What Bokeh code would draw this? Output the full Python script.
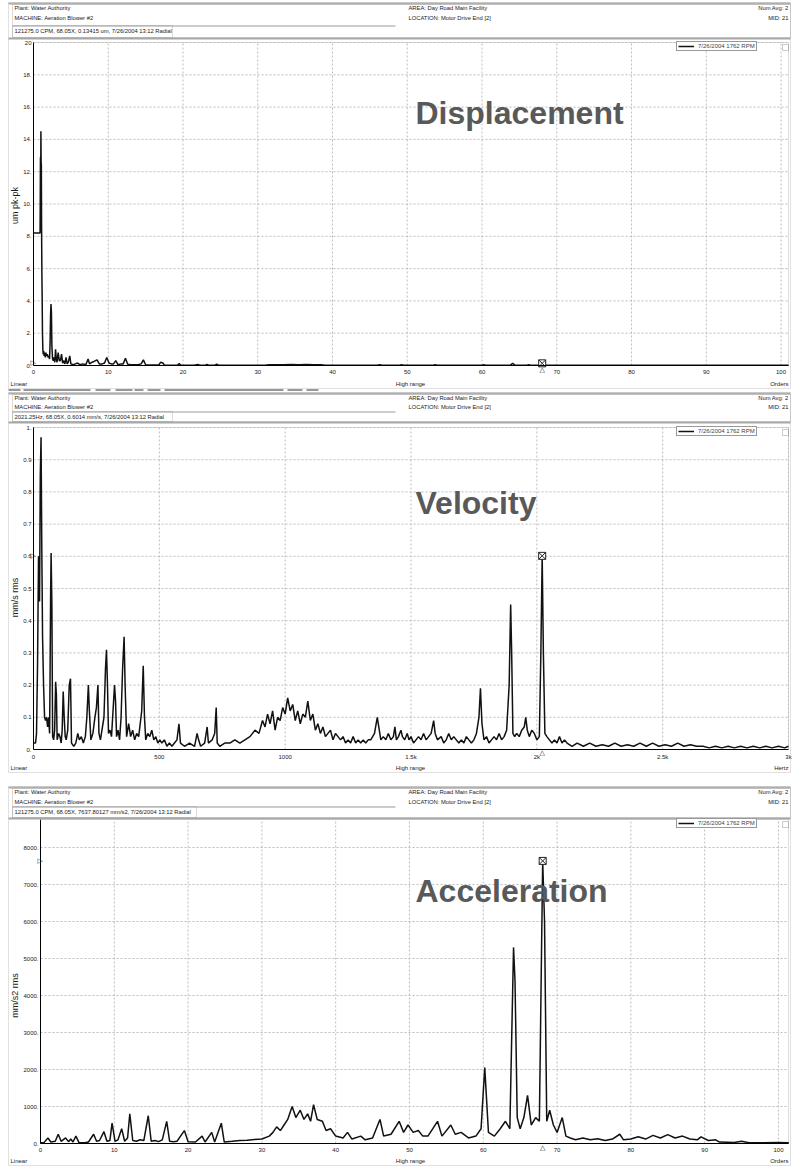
from bokeh.plotting import figure
from bokeh.models import Range1d, Label, BoxAnnotation, Legend, LegendItem, FixedTicker, LinearAxis
from bokeh.layouts import column
from bokeh.embed import file_html
from bokeh.resources import INLINE
from math import pi

FONT = "Liberation Sans"

# ---------------- data ----------------
disp_points = [
    (0, 8.2), (0.88, 8.2), (0.9, 9.8), (0.93, 12.9), (0.96, 10.2), (0.99, 14.5), (1.02, 12.6),
    (1.05, 12.4), (1.08, 8.6), (1.12, 5.8), (1.16, 4.1), (1.2, 2.0), (1.25, 1.0), (1.3, 0.7),
    (1.36, 0.9), (1.42, 0.6), (1.5, 0.8), (1.58, 0.5), (1.66, 0.8), (1.75, 0.6), (1.85, 0.7),
    (1.95, 0.5), (2.05, 0.6), (2.15, 0.4), (2.22, 1.4), (2.28, 3.1), (2.34, 3.8), (2.4, 3.3),
    (2.46, 1.2), (2.55, 0.4), (2.65, 0.3), (2.75, 0.5), (2.85, 0.2), (2.95, 1.0), (3.05, 0.4),
    (3.15, 0.2), (3.3, 0.8), (3.45, 0.3), (3.6, 0.3), (3.75, 0.7), (3.9, 0.15), (4.05, 0.3),
    (4.2, 0.1), (4.35, 0.5), (4.5, 0.1), (4.65, 0.2), (4.85, 0.6), (5.0, 0.1), (5.3, 0.05),
    (5.6, 0.1), (5.9, 0.15), (6.2, 0.05), (6.6, 0.1), (7.0, 0.05), (7.3, 0.4), (7.5, 0.1),
    (7.8, 0.2), (8.1, 0.25), (8.5, 0.35), (8.8, 0.1), (9.2, 0.1), (9.5, 0.15), (9.8, 0.5),
    (10.1, 0.15), (10.4, 0.1), (10.7, 0.1), (11.0, 0.3), (11.3, 0.05), (11.7, 0.1), (12.0, 0.1),
    (12.3, 0.45), (12.6, 0.08), (13.0, 0.05), (13.5, 0.05), (14.0, 0.05), (14.4, 0.1), (14.7, 0.35),
    (15.0, 0.05), (16.0, 0.03), (16.8, 0.05), (17.0, 0.2), (17.3, 0.15), (17.5, 0.03), (18.5, 0.02),
    (19.3, 0.03), (19.5, 0.12), (19.7, 0.02), (21.5, 0.01), (22.0, 0.06), (22.3, 0.01), (23.0, 0.01),
    (23.2, 0.06), (23.5, 0.01), (24.3, 0.02), (24.5, 0.09), (24.8, 0.01), (28, 0.01), (31, 0.02),
    (31.5, 0.05), (32.5, 0.04), (33.5, 0.05), (34.5, 0.06), (35.5, 0.05), (36.5, 0.06), (37.5, 0.05),
    (38.5, 0.04), (39, 0.02), (42, 0.01), (46, 0.01), (46.3, 0.05), (46.6, 0.01), (49, 0.01),
    (49.2, 0.05), (49.5, 0.01), (53.5, 0.01), (53.7, 0.05), (54, 0.01), (60, 0.01), (60.2, 0.05),
    (60.5, 0.01), (63.8, 0.02), (64.1, 0.14), (64.4, 0.02), (66, 0.01), (66.2, 0.05), (66.5, 0.01),
    (67.8, 0.02), (68.05, 0.134), (68.3, 0.02), (75, 0.01), (85, 0.01), (95, 0.01), (101, 0.01),
]

vel_points = [
    (0, 0.02), (8, 0.02), (12, 0.05), (16, 0.26), (20, 0.6), (24, 0.46), (27, 0.85), (30, 0.97),
    (33, 0.62), (36, 0.35), (40, 0.2), (44, 0.1), (48, 0.09), (52, 0.1), (56, 0.07), (60, 0.1),
    (64, 0.05), (66, 0.25), (68, 0.48), (70, 0.61), (73, 0.45), (76, 0.04), (80, 0.03), (84, 0.06),
    (88, 0.21), (91, 0.17), (94, 0.03), (100, 0.05), (105, 0.04), (110, 0.02), (114, 0.06),
    (118, 0.18), (122, 0.1), (126, 0.04), (130, 0.03), (136, 0.06), (142, 0.2), (147, 0.22),
    (151, 0.02), (160, 0.01), (168, 0.02), (176, 0.05), (182, 0.03), (190, 0.04), (198, 0.02),
    (206, 0.04), (212, 0.1), (218, 0.2), (222, 0.12), (228, 0.03), (236, 0.05), (244, 0.1),
    (250, 0.13), (256, 0.2), (260, 0.05), (266, 0.03), (272, 0.06), (280, 0.1), (286, 0.25),
    (290, 0.31), (294, 0.2), (298, 0.05), (304, 0.06), (310, 0.04), (316, 0.12), (322, 0.2),
    (326, 0.15), (330, 0.04), (336, 0.06), (342, 0.03), (348, 0.1), (354, 0.25), (360, 0.35),
    (364, 0.2), (370, 0.04), (378, 0.08), (386, 0.04), (394, 0.06), (402, 0.03), (410, 0.05),
    (418, 0.04), (424, 0.08), (430, 0.12), (436, 0.26), (441, 0.1), (446, 0.03), (454, 0.05),
    (462, 0.04), (470, 0.06), (478, 0.03), (486, 0.04), (494, 0.02), (502, 0.03), (510, 0.02),
    (520, 0.03), (530, 0.01), (540, 0.02), (550, 0.01), (560, 0.02), (570, 0.03), (578, 0.08),
    (584, 0.02), (600, 0.01), (620, 0.02), (640, 0.01), (650, 0.05), (656, 0.03), (664, 0.01),
    (680, 0.02), (690, 0.07), (695, 0.02), (710, 0.03), (720, 0.05), (726, 0.13), (730, 0.02),
    (740, 0.01), (760, 0.02), (780, 0.02), (800, 0.03), (820, 0.02), (840, 0.03), (860, 0.04),
    (880, 0.06), (896, 0.05), (910, 0.09), (920, 0.07), (930, 0.11), (940, 0.08), (950, 0.12),
    (960, 0.06), (970, 0.1), (980, 0.09), (990, 0.13), (1000, 0.11), (1010, 0.16), (1020, 0.12),
    (1030, 0.14), (1040, 0.09), (1050, 0.12), (1060, 0.08), (1070, 0.11), (1080, 0.1), (1090, 0.15),
    (1100, 0.09), (1110, 0.11), (1120, 0.06), (1130, 0.08), (1140, 0.05), (1150, 0.07), (1160, 0.04),
    (1170, 0.05), (1180, 0.06), (1190, 0.03), (1200, 0.05), (1210, 0.04), (1220, 0.03), (1230, 0.04),
    (1240, 0.02), (1250, 0.03), (1260, 0.02), (1270, 0.04), (1280, 0.02), (1290, 0.03), (1300, 0.02),
    (1310, 0.03), (1320, 0.02), (1330, 0.03), (1340, 0.03), (1355, 0.05), (1366, 0.1), (1372, 0.07),
    (1380, 0.03), (1390, 0.04), (1400, 0.03), (1410, 0.05), (1420, 0.03), (1430, 0.04), (1436, 0.07),
    (1442, 0.03), (1450, 0.04), (1460, 0.06), (1466, 0.04), (1475, 0.03), (1485, 0.05), (1492, 0.03),
    (1500, 0.04), (1510, 0.02), (1520, 0.03), (1530, 0.04), (1540, 0.03), (1550, 0.05), (1560, 0.03),
    (1570, 0.04), (1580, 0.05), (1590, 0.09), (1596, 0.05), (1605, 0.03), (1620, 0.04), (1630, 0.02),
    (1640, 0.03), (1650, 0.05), (1660, 0.03), (1670, 0.04), (1680, 0.03), (1690, 0.02), (1700, 0.03),
    (1710, 0.02), (1720, 0.04), (1730, 0.03), (1740, 0.02), (1750, 0.03), (1760, 0.05), (1770, 0.1),
    (1776, 0.19), (1782, 0.08), (1790, 0.03), (1800, 0.04), (1810, 0.02), (1820, 0.03), (1830, 0.04),
    (1840, 0.03), (1850, 0.05), (1860, 0.03), (1870, 0.04), (1880, 0.06), (1890, 0.2), (1896, 0.45),
    (1900, 0.3), (1905, 0.05), (1912, 0.04), (1920, 0.05), (1930, 0.04), (1940, 0.06), (1950, 0.07),
    (1956, 0.1), (1962, 0.06), (1970, 0.04), (1980, 0.06), (1990, 0.05), (2000, 0.03), (2010, 0.04),
    (2016, 0.3), (2021.25, 0.6014), (2026, 0.3), (2032, 0.05), (2040, 0.04), (2050, 0.03), (2060, 0.02),
    (2070, 0.03), (2080, 0.02), (2090, 0.04), (2100, 0.02), (2110, 0.03), (2120, 0.02), (2140, 0.01),
    (2160, 0.02), (2185, 0.01), (2210, 0.02), (2235, 0.01), (2260, 0.015), (2285, 0.01), (2310, 0.02),
    (2335, 0.01), (2360, 0.015), (2385, 0.01), (2410, 0.02), (2435, 0.01), (2460, 0.02), (2485, 0.01),
    (2510, 0.015), (2535, 0.01), (2560, 0.02), (2585, 0.01), (2610, 0.015), (2635, 0.01), (2660, 0.01),
    (2685, 0.005), (2710, 0.01), (2735, 0.005), (2760, 0.01), (2785, 0.005), (2810, 0.01), (2835, 0.005),
    (2860, 0.01), (2885, 0.005), (2910, 0.01), (2935, 0.005), (2960, 0.01), (2985, 0.005), (3000, 0.01),
]

acc_points = [
    (0, 20), (0.5, 30), (1.0, 150), (1.4, 40), (2.0, 60), (2.4, 250), (2.8, 60), (3.4, 150), (3.8, 50),
    (4.1, 120), (4.4, 40), (4.8, 200), (5.2, 30), (6.0, 20), (6.5, 40), (7.2, 250), (7.6, 60), (8.0, 80),
    (8.6, 320), (9.0, 60), (9.4, 80), (9.7, 550), (10.1, 60), (10.5, 100), (11.0, 400), (11.4, 60),
    (11.8, 150), (12.1, 800), (12.5, 80), (13.0, 60), (13.5, 100), (14.0, 80), (14.6, 750), (15.0, 60),
    (15.5, 80), (16.0, 50), (16.5, 100), (17.1, 600), (17.5, 60), (18.0, 50), (18.5, 60), (19.5, 350),
    (20.0, 50), (21.0, 40), (21.9, 200), (22.3, 40), (23.2, 300), (23.6, 40), (24.5, 550), (24.9, 40),
    (26, 60), (27, 80), (28, 90), (29, 110), (30, 120), (31, 200), (31.5, 300), (32, 450), (32.5, 350),
    (33, 500), (33.5, 650), (34.1, 1000), (34.6, 700), (35.2, 900), (35.7, 650), (36.2, 800), (36.6, 600),
    (37.0, 1050), (37.5, 650), (38.2, 600), (38.7, 350), (39.3, 400), (40, 200), (41, 150), (41.6, 300),
    (42.2, 120), (43.4, 200), (44, 100), (45, 150), (46, 650), (46.5, 200), (47.5, 250), (48.6, 600),
    (49.2, 300), (49.8, 500), (50.5, 300), (51.2, 350), (51.8, 200), (52.5, 200), (53.8, 600), (54.4, 200),
    (55.6, 500), (56.2, 250), (57, 300), (58, 150), (59, 200), (59.7, 400), (60.2, 2050), (60.7, 300),
    (61.5, 200), (62.3, 400), (63, 600), (63.6, 400), (64.1, 5300), (64.3, 4400), (64.6, 700), (65, 400),
    (65.5, 700), (66, 1300), (66.5, 500), (67.1, 700), (67.6, 600), (68.05, 7637.8), (68.3, 6000),
    (68.6, 600), (69, 900), (69.5, 500), (70, 300), (70.7, 700), (71.2, 200), (71.8, 150), (72.5, 100),
    (73.5, 150), (74.5, 100), (75.5, 130), (76.5, 80), (77.5, 120), (78.5, 250), (79, 100), (80, 120),
    (81, 180), (82, 120), (83, 220), (84, 150), (85, 240), (86, 150), (87, 200), (88, 120), (89, 100),
    (89.5, 180), (90.5, 80), (91.5, 100), (92, 40), (94, 30), (95, 60), (96, 20), (98, 20), (100, 25),
    (101.4, 20),
]

order_ticks = [0, 10, 20, 30, 40, 50, 60, 70, 80, 90, 100]
order_tick_labels = ["0", "10", "20", "30", "40", "50", "60", "70", "80", "90", "100"]
hz_ticks = [0, 500, 1000, 1500, 2000, 2500, 3000]
hz_tick_labels = ["0", "500", "1000", "1.5k", "2k", "2.5k", "3k"]
disp_yticks = [0, 2, 4, 6, 8, 10, 12, 14, 16, 18, 20]
disp_ytick_labels = ["0.", "2.", "4.", "6.", "8.", "10.", "12.", "14.", "16.", "18.", "20"]
vel_yticks = [0, 0.1, 0.2, 0.3, 0.4, 0.5, 0.6, 0.7, 0.8, 0.9, 1.0]
vel_ytick_labels = ["0.", "0.1", "0.2", "0.3", "0.4", "0.5", "0.6", "0.7", "0.8", "0.9", "1."]
acc_yticks = [0, 1000, 2000, 3000, 4000, 5000, 6000, 7000, 8000]
acc_ytick_labels = ["0.", "1000.", "2000.", "3000.", "4000.", "5000.", "6000.", "7000.", "8000."]

header_left = ["Plant: Water Authority", "MACHINE: Aeration Blower #2"]
header_mid = ["AREA: Day Road Main Facility", "LOCATION: Motor Drive End [2]"]
header_right = ["Num Avg: 2", "MID: 21"]
cursor_texts = [
    "121275.0 CPM, 68.05X, 0.13415 um, 7/26/2004 13:12 Radial",
    "2021.25Hz, 68.05X, 0.6014 mm/s, 7/26/2004 13:12 Radial",
    "121275.0 CPM, 68.05X, 7637.80127 mm/s2, 7/26/2004 13:12 Radial",
]
cursor_x = [68.05, 2021.25, 68.05]
cursor_y = [0.13415, 0.6014, 7637.80127]
legend_label = "7/26/2004 1762 RPM"
big_titles = ["Displacement", "Velocity", "Acceleration"]
y_titles = ["um pk-pk", "mm/s rms", "mm/s2 rms"]
x_unit_names = ["Orders", "Hertz", "Orders"]
scale_name = "Linear"
range_name = "High range"

# ---------------- layout (page pixels) ----------------
panels = [
    dict(points=disp_points, xmax=101.0, ymax=20.0, xt=order_ticks, xtl=order_tick_labels,
         yt=disp_yticks, ytl=disp_ytick_labels,
         top=0, h=391, fl=33, fr=788, ft=42, fb=365,
         htop=2, hbot=37, rows=(7, 17, 30), foot=383, pbot=388, title_y=112, ylab_y=205, tri_y=369),
    dict(points=vel_points, xmax=3000.0, ymax=1.0, xt=hz_ticks, xtl=hz_tick_labels,
         yt=vel_yticks, ytl=vel_ytick_labels,
         top=391, h=382, fl=33, fr=788, ft=36, fb=358,
         htop=392, hbot=421, rows=(397, 406, 416), foot=767, pbot=772, title_y=502, ylab_y=597, tri_y=752),
    dict(points=acc_points, xmax=101.36, ymax=8757.0, xt=order_ticks, xtl=order_tick_labels,
         yt=acc_yticks, ytl=acc_ytick_labels,
         top=773, h=393, fl=40, fr=788, ft=46, fb=370,
         htop=786, hbot=817, rows=(791, 801, 811), foot=1160, pbot=1165, title_y=890, ylab_y=995, tri_y=1147),
]


def make_panel(i, g):
    xs = [pt[0] for pt in g["points"]]
    ys = [pt[1] for pt in g["points"]]
    h, top, fl, fr, ft, fb = g["h"], g["top"], g["fl"], g["fr"], g["ft"], g["fb"]
    kx = (fr - fl) / g["xmax"]
    ky = (fb - ft) / g["ymax"]
    xr = Range1d(-fl / kx, g["xmax"] + (792 - fr) / kx)
    yr = Range1d(-(h - fb) / ky, g["ymax"] + ft / ky)
    p = figure(width=792, height=h, x_range=xr, y_range=yr, min_border=0, title=None,
               x_axis_location=None, y_axis_location=None,
               output_backend="svg", toolbar_location=None)
    p.background_fill_color = "white"
    p.border_fill_color = "white"
    p.outline_line_color = None
    p.grid.visible = False

    def sx(X):
        return X

    def sy(Y):
        return h - (Y - top)

    def text(X, Y, t, size="5.8px", align="left", color="#1a1a1a", font=FONT, style="normal", angle=0.0,
             xu="screen", yu="screen", baseline="middle"):
        p.add_layout(Label(x=X, y=Y, x_units=xu, y_units=yu, text=t, text_font_size=size,
                           text_align=align, text_baseline=baseline, text_color=color,
                           text_font=font, text_font_style=style, angle=angle))

    def box(l, t, r, b, fill=None, line=None, lw=1, level="overlay"):
        p.add_layout(BoxAnnotation(left=sx(l), right=sx(r), top=sy(t), bottom=sy(b),
                                   left_units="screen", right_units="screen",
                                   top_units="screen", bottom_units="screen",
                                   fill_color=fill, fill_alpha=1.0 if fill else 0.0,
                                   line_color=line, line_width=lw, level=level))

    # dashed grid at the tick values
    gx = [t for t in g["xt"] if t > 0]
    gy = [t for t in g["yt"] if t > 0]
    p.segment(x0=gx, y0=[0] * len(gx), x1=gx, y1=[g["ymax"]] * len(gx),
              line_color="#bdbdbd", line_dash="2 2", line_width=1)
    p.segment(x0=[0] * len(gy), y0=gy, x1=[g["xmax"]] * len(gy), y1=gy,
              line_color="#bdbdbd", line_dash="2 2", line_width=1)
    # plot area outline
    p.add_layout(BoxAnnotation(left=0, right=g["xmax"], bottom=0, top=g["ymax"], fill_color=None,
                               fill_alpha=0.0, line_color="#8a8a8a", line_width=1, level="underlay"))

    r = p.line(xs, ys, line_color="#111111", line_width=1.5)

    # axes drawn at the data origin
    xaxis = LinearAxis(fixed_location=0, bounds=(0, g["xmax"]), ticker=FixedTicker(ticks=g["xt"]))
    yaxis = LinearAxis(fixed_location=0, bounds=(0, g["ymax"]), ticker=FixedTicker(ticks=g["yt"]))
    xaxis.major_label_overrides = {t: l for t, l in zip(g["xt"], g["xtl"])}
    yaxis.major_label_overrides = {t: l for t, l in zip(g["yt"], g["ytl"])}
    for ax in (xaxis, yaxis):
        ax.axis_line_color = "black"
        ax.axis_line_width = 1
        ax.major_tick_out = 0
        ax.major_tick_in = 0
        ax.minor_tick_out = 0
        ax.minor_tick_in = 0
        ax.major_label_text_font = FONT
        ax.major_label_text_font_size = "6px"
        ax.major_label_text_color = "#1a1a1a"
    xaxis.major_label_standoff = 4
    yaxis.major_label_standoff = 2
    p.add_layout(xaxis, "below")
    p.add_layout(yaxis, "left")

    # cursor marker at the harmonic reading
    p.scatter([cursor_x[i]], [cursor_y[i]], marker="square_x", size=7, fill_color="white",
              line_color="#222222", line_width=1)
    text(cursor_x[i], sy(g["tri_y"]), "\u25b3", size="7px", align="center", font="DejaVu Sans", xu="data")
    text(sx(fl - 3), cursor_y[i], "\u25b7", size="7px", align="left", font="DejaVu Sans", yu="data")

    # legend
    leg = Legend(items=[LegendItem(label=legend_label, renderers=[r])],
                 location=(sx(676), sy(top + ft + 9)),
                 label_text_font=FONT, label_text_font_size="6px", label_height=6,
                 glyph_width=16, glyph_height=6, padding=1, margin=0, spacing=0,
                 label_standoff=4, border_line_color="#333333", border_line_width=1,
                 background_fill_color="white", background_fill_alpha=1.0)
    p.add_layout(leg)
    box(782, top + ft + 2, 788, top + ft + 8, fill=None, line="#555555")

    # panel frame and header box
    r0, r1, r2 = g["rows"]
    box(8, g["htop"], 790, g["pbot"], fill=None, line="#9a9a9a", lw=1)
    box(8, g["htop"], 790, g["htop"] + 2, fill="#b0b0b0", line=None)
    box(12, g["htop"] + 2, 790, g["hbot"], fill=None, line="#8c8c8c", lw=1)
    box(8, g["hbot"], 790, g["hbot"] + 2, fill="#a8a8a8", line=None)
    box(12, r2 - 5, 395, r2 - 4, fill="#9a9a9a", line=None)
    box(12, r2 - 5, 172 if i != 2 else 196, g["hbot"], fill=None, line="#8c8c8c", lw=1)

    text(sx(14), sy(r0), header_left[0])
    text(sx(14), sy(r1), header_left[1])
    text(sx(14), sy(r2), cursor_texts[i])
    text(sx(408), sy(r0), header_mid[0])
    text(sx(408), sy(r1), header_mid[1])
    text(sx(788), sy(r0), header_right[0], align="right")
    text(sx(788), sy(r1), header_right[1], align="right")

    # footer
    text(sx(10), sy(g["foot"]), scale_name, size="6px")
    text(sx(410), sy(g["foot"]), range_name, align="center", size="6px")
    text(sx(788), sy(g["foot"]), x_unit_names[i], align="right", size="6px")

    # axis title and big overlay title
    text(sx(14), sy(g["ylab_y"]), y_titles[i], size="9px", align="center", angle=pi / 2)
    text(sx(415), sy(g["title_y"]), big_titles[i], size="32px", color="#595959", style="bold")
    return p


figs = [make_panel(i, g) for i, g in enumerate(panels)]

# broken rule between first and second panel
dash_segments = [(8, 20), (23, 90), (95, 110), (115, 132), (134, 143), (147, 160), (164, 283), (287, 302), (306, 318)]
g0 = panels[0]
for a, b in dash_segments:
    figs[0].add_layout(BoxAnnotation(left=a, right=b, top=g0["h"] - 389, bottom=g0["h"] - 390,
                                     left_units="screen", right_units="screen", top_units="screen",
                                     bottom_units="screen", fill_color="#333333", fill_alpha=1.0,
                                     line_color=None, level="overlay"))

page = column(*figs, spacing=0)
open("out.html", "w").write(file_html(page, INLINE))
